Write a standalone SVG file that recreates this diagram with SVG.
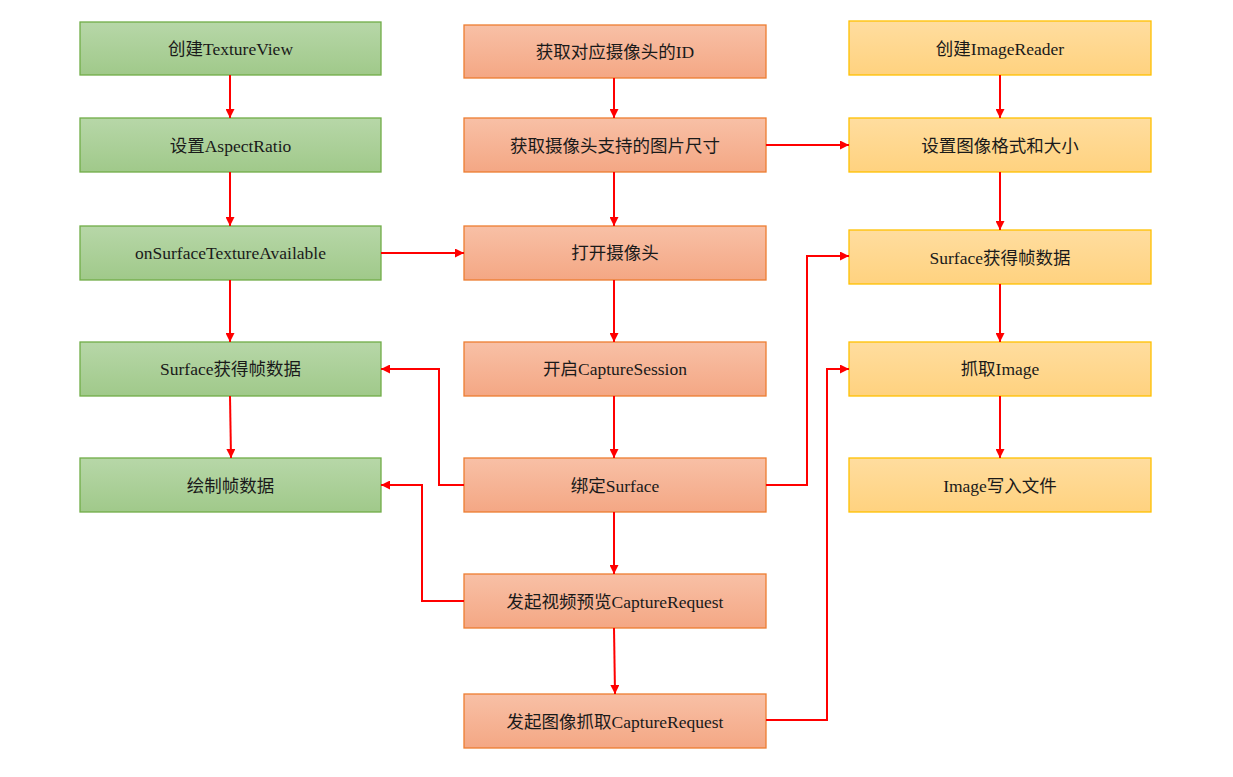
<svg xmlns="http://www.w3.org/2000/svg" width="1233" height="777" viewBox="0 0 1233 777">
<defs>
<linearGradient id="gG" x1="0" y1="0" x2="0" y2="1"><stop offset="0" stop-color="#b7d7a8"/><stop offset="1" stop-color="#a0c98a"/></linearGradient>
<linearGradient id="gO" x1="0" y1="0" x2="0" y2="1"><stop offset="0" stop-color="#f8c0a6"/><stop offset="1" stop-color="#f4a784"/></linearGradient>
<linearGradient id="gY" x1="0" y1="0" x2="0" y2="1"><stop offset="0" stop-color="#ffdd9f"/><stop offset="1" stop-color="#ffd27f"/></linearGradient>
<marker id="ah" viewBox="0 0 10 10" refX="10" refY="5" markerWidth="4.5" markerHeight="4.5" orient="auto" markerUnits="strokeWidth"><path d="M0,0 L10,5 L0,10 z" fill="#ff0000"/></marker>
</defs>
<style>
.g rect{fill:url(#gG);stroke:#70ad47;stroke-width:1.3}
.o rect{fill:url(#gO);stroke:#ed7d31;stroke-width:1.3}
.y rect{fill:url(#gY);stroke:#ffc000;stroke-width:1.3}
text{font-family:"Liberation Serif","Noto Sans CJK SC",serif;font-size:17.5px;fill:#1a1a1a;text-anchor:middle;dominant-baseline:central}
.c path{fill:none;stroke:#ff0000;stroke-width:2;marker-end:url(#ah)}
</style>
<rect width="1233" height="777" fill="#ffffff"/>
<g id="g1" class="g"><rect x="80" y="22" width="301" height="53"/><text x="230.5" y="49">创建TextureView</text></g>
<g id="g2" class="g"><rect x="80" y="118" width="301" height="54"/><text x="230.5" y="146">设置AspectRatio</text></g>
<g id="g3" class="g"><rect x="80" y="226" width="301" height="54"/><text x="230.5" y="253">onSurfaceTextureAvailable</text></g>
<g id="g4" class="g"><rect x="80" y="342" width="301" height="54"/><text x="230.5" y="369">Surface获得帧数据</text></g>
<g id="g5" class="g"><rect x="80" y="458" width="301" height="54"/><text x="230.5" y="486">绘制帧数据</text></g>
<g id="o1" class="o"><rect x="464" y="25" width="302" height="53"/><text x="615" y="52">获取对应摄像头的ID</text></g>
<g id="o2" class="o"><rect x="464" y="118" width="302" height="54"/><text x="615" y="146">获取摄像头支持的图片尺寸</text></g>
<g id="o3" class="o"><rect x="464" y="226" width="302" height="54"/><text x="615" y="253">打开摄像头</text></g>
<g id="o4" class="o"><rect x="464" y="342" width="302" height="54"/><text x="615" y="369">开启CaptureSession</text></g>
<g id="o5" class="o"><rect x="464" y="458" width="302" height="54"/><text x="615" y="486">绑定Surface</text></g>
<g id="o6" class="o"><rect x="464" y="574" width="302" height="54"/><text x="615" y="602">发起视频预览CaptureRequest</text></g>
<g id="o7" class="o"><rect x="464" y="694" width="302" height="54"/><text x="615" y="722">发起图像抓取CaptureRequest</text></g>
<g id="y1" class="y"><rect x="849" y="21" width="302" height="54"/><text x="1000" y="49">创建ImageReader</text></g>
<g id="y2" class="y"><rect x="849" y="118" width="302" height="54"/><text x="1000" y="146">设置图像格式和大小</text></g>
<g id="y3" class="y"><rect x="849" y="230" width="302" height="54"/><text x="1000" y="258">Surface获得帧数据</text></g>
<g id="y4" class="y"><rect x="849" y="342" width="302" height="54"/><text x="1000" y="369">抓取Image</text></g>
<g id="y5" class="y"><rect x="849" y="458" width="302" height="54"/><text x="1000" y="486">Image写入文件</text></g>
<g id="connectors" class="c">
<path d="M230,75 V118"/>
<path d="M230,172 V226"/>
<path d="M230,280 V342"/>
<path d="M230,396 L231,458"/>
<path d="M614,78 V118"/>
<path d="M614,172 V226"/>
<path d="M614,280 V342"/>
<path d="M614,396 V458"/>
<path d="M614,512 V574"/>
<path d="M614,628 L615,694"/>
<path d="M1000,75 V118"/>
<path d="M1000,172 V230"/>
<path d="M1000,284 V342"/>
<path d="M1000,396 V458"/>
<path d="M381,253 H464"/>
<path d="M766,145 H849"/>
<path d="M464,485 H439 V369 H381"/>
<path d="M464,601 H422 V485 H381"/>
<path d="M766,485 H807 V256 H849"/>
<path d="M766,720 H827 V369 H849"/>
</g>
</svg>
